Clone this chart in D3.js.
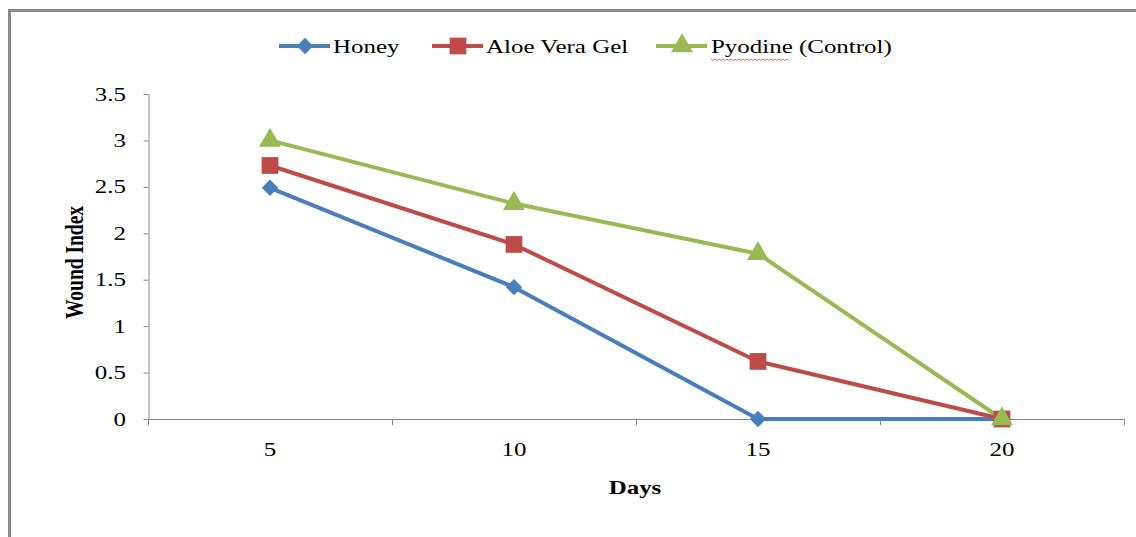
<!DOCTYPE html>
<html>
<head>
<meta charset="utf-8">
<script src="https://cdn.jsdelivr.net/npm/d3@7"></script>
<style>
  html, body { margin: 0; padding: 0; background: #fff; }
  svg { display: block; }
  text { font-family: "Liberation Serif", "Times New Roman", serif; fill: #000; }
</style>
</head>
<body>
<svg id="chart" width="1136" height="537"></svg>
<script>
// Wound index over days for three treatments
const days = ["5", "10", "15", "20"];
const honey = [2.49, 1.42, 0, 0];
const aloeVera = [2.73, 1.88, 0.62, 0];
const pyodine = [3.0, 2.32, 1.78, 0];
const yTicks = [0, 0.5, 1, 1.5, 2, 2.5, 3, 3.5];
const seriesNames = ["Honey", "Aloe Vera Gel", "Pyodine (Control)"];

const series = [
  { name: seriesNames[0], values: honey, color: "#4a7ebb", symbol: d3.symbolDiamond2, size: 170 },
  { name: seriesNames[1], values: aloeVera, color: "#be4b48", symbol: d3.symbolSquare, size: 280 },
  { name: seriesNames[2], values: pyodine, color: "#98b954", symbol: d3.symbolTriangle, size: 210 }
];

// text in this figure is set wide
const widen = 1.28;
function label(parent, x, y, str, opts = {}) {
  const rot = opts.rotate ? ` rotate(${opts.rotate})` : "";
  return parent.append("text")
    .attr("transform", `translate(${x},${y}) scale(${widen},1)${rot}`)
    .attr("text-anchor", opts.anchor || "start")
    .style("font-size", (opts.size || 19) + "px")
    .style("font-weight", opts.bold ? "bold" : "normal")
    .text(str);
}

const svg = d3.select("#chart");

// chart area frame (top and left edges visible)
svg.append("path")
  .attr("d", "M9.5,540 L9.5,10.5 L1140,10.5")
  .attr("fill", "none")
  .attr("stroke", "#8a8a8a")
  .attr("stroke-width", 3);

const plot = { left: 148, right: 1124, top: 94, bottom: 419 };

const x = d3.scaleBand().domain(days).range([plot.left, plot.right]).paddingInner(0).paddingOuter(0);
const y = d3.scaleLinear().domain([0, 3.5]).range([plot.bottom, plot.top]);

const axisColor = "#868686";

// y axis line and ticks
const yAxis = svg.append("g")
  .attr("transform", `translate(${plot.left + 0.5},0)`)
  .call(d3.axisLeft(y).tickValues(yTicks).tickFormat("").tickSize(5).tickSizeOuter(0));
yAxis.select(".domain").attr("stroke", axisColor);
yAxis.selectAll(".tick line").attr("stroke", axisColor);
yTicks.forEach(t => {
  label(svg, 126, y(t) + 6.5, d3.format("")(t), { anchor: "end", size: 19.5 });
});

// x axis: ticks sit on category boundaries
const xAxisG = svg.append("g").attr("transform", `translate(0,${plot.bottom})`);
xAxisG.append("line")
  .attr("x1", plot.left).attr("x2", plot.right)
  .attr("y1", 0.5).attr("y2", 0.5)
  .attr("stroke", axisColor);
const boundaries = days.map(d => x(d)).concat([plot.right]);
xAxisG.selectAll("line.tick")
  .data(boundaries)
  .enter().append("line")
  .attr("class", "tick")
  .attr("x1", d => Math.round(d) + 0.5).attr("x2", d => Math.round(d) + 0.5)
  .attr("y1", 0).attr("y2", 6)
  .attr("stroke", axisColor);
days.forEach(d => {
  label(svg, x(d) + x.bandwidth() / 2, plot.bottom + 37, d, { anchor: "middle", size: 19.5 });
});

// axis titles
label(svg, (plot.left + plot.right) / 2 - 1, 494, "Days", { anchor: "middle", size: 19.5, bold: true });
label(svg, 83, (plot.top + plot.bottom) / 2 + 6, "Wound Index", { anchor: "middle", size: 19.5, bold: true, rotate: -90 });

// series lines and markers
const cx = d => x(d) + x.bandwidth() / 2;
const line = d3.line().x((v, i) => cx(days[i])).y(v => y(v));

series.forEach(s => {
  svg.append("path")
    .datum(s.values)
    .attr("d", line)
    .attr("fill", "none")
    .attr("stroke", s.color)
    .attr("stroke-width", 4)
    .attr("stroke-linejoin", "round");
});
series.forEach(s => {
  svg.selectAll(null)
    .data(s.values)
    .enter().append("path")
    .attr("d", d3.symbol().type(s.symbol).size(s.size))
    .attr("transform", (v, i) => `translate(${cx(days[i])},${y(v)})`)
    .attr("fill", s.color);
});

// legend
const legendItems = [
  { s: series[0], x0: 279, textX: 333 },
  { s: series[1], x0: 432, textX: 486 },
  { s: series[2], x0: 656, textX: 711 }
];
const legY = 46;
legendItems.forEach(item => {
  const g = svg.append("g");
  g.append("line")
    .attr("x1", item.x0).attr("x2", item.x0 + 51)
    .attr("y1", legY).attr("y2", legY)
    .attr("stroke", item.s.color).attr("stroke-width", 4);
  g.append("path")
    .attr("d", d3.symbol().type(item.s.symbol).size(item.s.size))
    .attr("transform", `translate(${item.x0 + 26},${legY})`)
    .attr("fill", item.s.color);
  label(g, item.textX, legY + 7, item.s.name, { size: 19.5 });
});

// spell-check squiggle under "Pyodine"
const wave = [];
for (let px = 711; px <= 790; px += 2) {
  wave.push([px, 59 + ((px - 711) % 4 === 0 ? 0 : 1.5)]);
}
svg.append("path")
  .attr("d", d3.line()(wave))
  .attr("fill", "none")
  .attr("stroke", "#e04040")
  .attr("stroke-width", 0.8);
</script>
</body>
</html>
